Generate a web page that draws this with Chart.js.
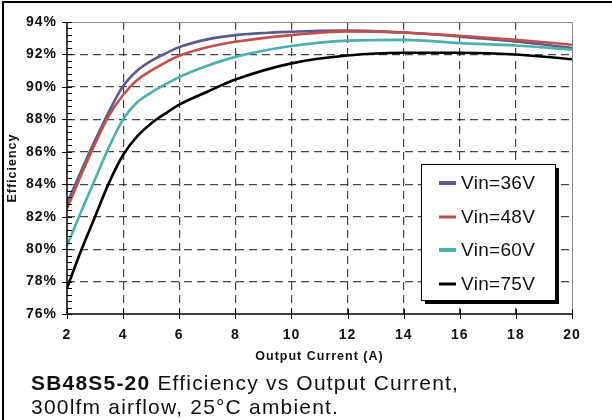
<!DOCTYPE html>
<html>
<head>
<meta charset="utf-8">
<script src="https://cdn.jsdelivr.net/npm/chart.js@4/dist/chart.umd.min.js"></script>
<style>
  html, body { margin: 0; padding: 0; background: #fff; }
  #wrap { position: relative; width: 612px; height: 420px; overflow: hidden; }
  #chart { position: absolute; left: 0; top: 0; }
  .caption {
    position: absolute; left: 31px; font-family: "Liberation Sans", Arial, sans-serif;
    font-size: 21px; letter-spacing: 1.2px; color: #111; white-space: nowrap; line-height: 22px;
  }
</style>
</head>
<body>
<div id="wrap">
  <canvas id="chart" width="612" height="420"></canvas>
  <div class="caption" style="top:372px;"><b>SB48S5-20</b> Efficiency vs Output Current,</div>
  <div class="caption" style="top:396px;">300lfm airflow, 25°C ambient.</div>
</div>
<script>
// output current (A)
const currents = [2, 2.5, 3, 3.5, 4, 4.5, 5, 5.5, 6, 7, 8, 10, 12, 14, 16, 18, 20];
// efficiency (%)
const vin36 = [82.8, 84.8, 86.7, 88.5, 90.05, 91.0, 91.6, 92.05, 92.45, 92.93, 93.19, 93.4, 93.47, 93.35, 93.1, 92.8, 92.4];
const vin48 = [82.5, 84.55, 86.5, 88.25, 89.5, 90.42, 91.0, 91.5, 91.92, 92.44, 92.78, 93.19, 93.42, 93.35, 93.15, 92.9, 92.6];
const vin60 = [80.2, 82.3, 84.3, 86.3, 88.0, 89.05, 89.65, 90.15, 90.6, 91.3, 91.85, 92.52, 92.85, 92.9, 92.7, 92.55, 92.3];
const vin75 = [77.6, 79.9, 82.0, 84.1, 85.8, 86.95, 87.75, 88.35, 88.9, 89.7, 90.45, 91.45, 91.93, 92.1, 92.1, 92.0, 91.7];
const seriesLabels = ['Vin=36V', 'Vin=48V', 'Vin=60V', 'Vin=75V'];
const seriesColors = ['#5b5b8c', '#c0504d', '#4bb1aa', '#000000'];

const FONT = '"Liberation Sans", Arial, sans-serif';

function toPoints(ys) {
    return currents.map((x, i) => ({x: x, y: ys[i]}));
}

// dashed grid only between the axes, not on the frame
function gridColor(ctx) {
    const ticks = ctx.scale.ticks;
    if (ctx.index === 0 || ctx.index === ticks.length - 1) return 'rgba(0,0,0,0)';
    return 'rgba(0,0,0,0.72)';
}

const framePlugin = {
    id: 'frame',
    beforeDraw(chart) {
        // the original text is a bit wider than Liberation Sans
        chart.ctx.letterSpacing = '1px';
    },
    afterDraw(chart) {
        const {ctx, chartArea: a, scales} = chart;
        const xs = scales.x, ys = scales.y;
        ctx.save();

        // top and right of plot: light grey
        ctx.strokeStyle = '#8c8c8c';
        ctx.lineWidth = 1;
        ctx.beginPath();
        ctx.moveTo(a.left, a.top + 0.5);
        ctx.lineTo(a.right + 0.5, a.top + 0.5);
        ctx.lineTo(a.right + 0.5, a.bottom);
        ctx.stroke();

        // left and bottom axes: black
        ctx.strokeStyle = '#000';
        ctx.lineWidth = 1.5;
        ctx.beginPath();
        ctx.moveTo(a.left, a.top);
        ctx.lineTo(a.left, a.bottom);
        ctx.lineTo(a.right, a.bottom);
        ctx.stroke();

        // y major ticks crossing the axis, minor ticks inside
        ctx.lineWidth = 1;
        ctx.beginPath();
        ys.ticks.forEach(t => {
            const py = Math.round(ys.getPixelForValue(t.value)) + 0.5;
            ctx.moveTo(a.left - 5, py);
            ctx.lineTo(a.left + 5, py);
        });
        for (let v = ys.min; v < ys.max - 0.01; v += 0.4) {
            const py = Math.round(ys.getPixelForValue(v)) + 0.5;
            ctx.moveTo(a.left, py);
            ctx.lineTo(a.left + 5, py);
        }
        // x major ticks
        xs.ticks.forEach(t => {
            const px = Math.round(xs.getPixelForValue(t.value)) + 0.5;
            ctx.moveTo(px, a.bottom - 5);
            ctx.lineTo(px, a.bottom + 5);
        });
        ctx.stroke();

        // outer border of the figure (top and left)
        ctx.lineWidth = 2;
        ctx.beginPath();
        ctx.moveTo(3, 420);
        ctx.lineTo(3, 2);
        ctx.lineTo(612, 2);
        ctx.stroke();

        // legend box with shadow
        const bx = 421, by = 164, bw = 134, bh = 136;
        ctx.fillStyle = '#000';
        ctx.fillRect(bx + 4, by + 4, bw, bh);
        ctx.fillStyle = '#fff';
        ctx.fillRect(bx, by, bw, bh);
        ctx.strokeStyle = '#000';
        ctx.lineWidth = 1;
        ctx.strokeRect(bx + 0.5, by + 0.5, bw, bh);

        const rows = [183, 217, 250, 284];
        const sampleWidths = [4, 3, 4, 3];
        ctx.font = '19px ' + FONT;
        ctx.letterSpacing = '0.3px';
        ctx.textBaseline = 'middle';
        seriesLabels.forEach((label, i) => {
            ctx.strokeStyle = seriesColors[i];
            ctx.lineWidth = sampleWidths[i];
            ctx.beginPath();
            ctx.moveTo(439, rows[i]);
            ctx.lineTo(456, rows[i]);
            ctx.stroke();
            ctx.fillStyle = '#111';
            ctx.fillText(label, 461, rows[i] + 1);
        });

        ctx.restore();
    }
};

new Chart(document.getElementById('chart'), {
    type: 'line',
    data: {
        datasets: [vin36, vin48, vin60, vin75].map((ys, i) => ({
            label: seriesLabels[i],
            data: toPoints(ys),
            borderColor: seriesColors[i],
            backgroundColor: seriesColors[i],
            borderWidth: 2.6,
            pointRadius: 0,
            cubicInterpolationMode: 'monotone',
            fill: false,
            order: seriesLabels.length - i
        }))
    },
    options: {
        responsive: false,
        animation: false,
        events: [],
        layout: {padding: {left: 0, top: 22, right: 40, bottom: 56}},
        plugins: {
            legend: {display: false},
            tooltip: {enabled: false}
        },
        scales: {
            x: {
                type: 'linear',
                min: 2,
                max: 20,
                ticks: {
                    stepSize: 2,
                    padding: 13,
                    color: '#111',
                    font: {family: FONT, size: 14, weight: 'bold'}
                },
                grid: {color: gridColor, lineWidth: 1.2, drawTicks: false},
                border: {display: false, dash: [8, 5]},
                title: {
                    display: true,
                    text: 'Output Current (A)',
                    color: '#111',
                    padding: {top: 4, bottom: 0},
                    font: {family: FONT, size: 12.5, weight: 'bold'}
                },
                afterFit(scale) { scale.height = 50; }
            },
            y: {
                min: 76,
                max: 94,
                ticks: {
                    stepSize: 2,
                    padding: 10,
                    color: '#111',
                    font: {family: FONT, size: 14, weight: 'bold'},
                    callback: v => v + '%'
                },
                grid: {color: gridColor, lineWidth: 1.2, drawTicks: false},
                border: {display: false, dash: [8, 5]},
                title: {
                    display: true,
                    text: 'Efficiency',
                    color: '#111',
                    padding: {top: 5, bottom: 0},
                    font: {family: FONT, size: 12.5, weight: 'bold'}
                },
                afterFit(scale) { scale.width = 67; }
            }
        }
    },
    plugins: [framePlugin]
});
</script>
</body>
</html>
